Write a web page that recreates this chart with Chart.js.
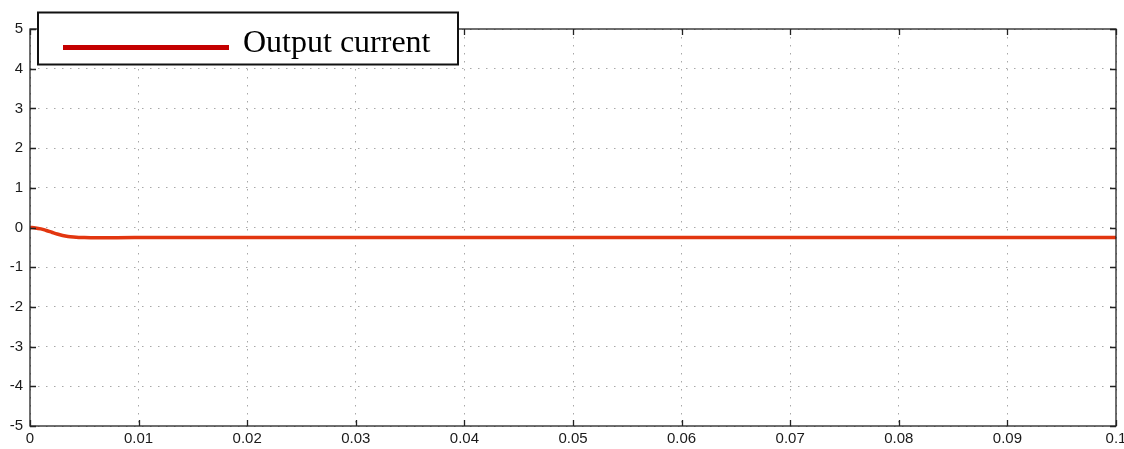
<!DOCTYPE html>
<html>
<head>
<meta charset="utf-8">
<script src="https://cdn.jsdelivr.net/npm/chart.js@4.4.1/dist/chart.umd.min.js"></script>
<style>
  html, body { margin: 0; padding: 0; background: #ffffff; }
  #wrap { width: 1124px; height: 449px; }
</style>
</head>
<body>
<div id="wrap"><canvas id="c" width="1124" height="449"></canvas></div>
<script>
// Simulation time (s) and output current (A)
const timeSec = [0, 0.0005, 0.001, 0.0015, 0.002, 0.0025, 0.003, 0.0035, 0.004, 0.0045, 0.005, 0.006, 0.007, 0.008, 0.01, 0.02, 0.03, 0.04, 0.05, 0.06, 0.07, 0.08, 0.09, 0.1];
const outputCurrent = [0, -0.01, -0.035, -0.075, -0.12, -0.165, -0.2, -0.225, -0.24, -0.25, -0.255, -0.26, -0.258, -0.256, -0.255, -0.255, -0.255, -0.255, -0.255, -0.255, -0.255, -0.255, -0.255, -0.255];

const xTicks = [0, 0.01, 0.02, 0.03, 0.04, 0.05, 0.06, 0.07, 0.08, 0.09, 0.1];
const xTickLabels = ['0', '0.01', '0.02', '0.03', '0.04', '0.05', '0.06', '0.07', '0.08', '0.09', '0.1'];
const yTicks = [-5, -4, -3, -2, -1, 0, 1, 2, 3, 4, 5];
const seriesName = 'Output current';

const points = timeSec.map((t, i) => ({ x: t, y: outputCurrent[i] }));

// Axes frame and inward tick marks
const framePlugin = {
  id: 'frame',
  afterDatasetsDraw(chart) {
    const { ctx, chartArea: a, scales } = chart;
    ctx.save();
    ctx.strokeStyle = '#222';
    ctx.lineWidth = 1.3;
    ctx.strokeRect(a.left, a.top, a.right - a.left, a.bottom - a.top);
    ctx.beginPath();
    const len = 6;
    xTicks.forEach(v => {
      const px = Math.round(scales.x.getPixelForValue(v)) + 0.5;
      ctx.moveTo(px, a.bottom); ctx.lineTo(px, a.bottom - len);
      ctx.moveTo(px, a.top); ctx.lineTo(px, a.top + len);
    });
    yTicks.forEach(v => {
      const py = Math.round(scales.y.getPixelForValue(v)) + 0.5;
      ctx.moveTo(a.left, py); ctx.lineTo(a.left + len, py);
      ctx.moveTo(a.right, py); ctx.lineTo(a.right - len, py);
    });
    ctx.stroke();
    ctx.restore();
  }
};

// Boxed legend overlapping the top-left corner of the axes
const legendBoxPlugin = {
  id: 'legendBox',
  afterDraw(chart) {
    const { ctx } = chart;
    const ds = chart.data.datasets[0];
    ctx.save();
    ctx.fillStyle = '#ffffff';
    ctx.fillRect(37, 12, 421, 53);
    ctx.strokeStyle = '#111';
    ctx.lineWidth = 2;
    ctx.strokeRect(38, 12.5, 420, 52);
    ctx.strokeStyle = '#c40000';
    ctx.lineWidth = 5;
    ctx.beginPath();
    ctx.moveTo(63, 47.5);
    ctx.lineTo(229, 47.5);
    ctx.stroke();
    ctx.fillStyle = '#000';
    ctx.font = '32px "Liberation Serif", "Times New Roman", serif';
    ctx.textBaseline = 'alphabetic';
    ctx.fillText(ds.label, 243, 52);
    ctx.restore();
  }
};

const tickFont = { family: '"Liberation Sans", Arial, sans-serif', size: 15 };

new Chart(document.getElementById('c'), {
  type: 'line',
  data: {
    datasets: [{
      label: seriesName,
      data: points,
      borderColor: '#e2360f',
      borderWidth: 3.5,
      pointRadius: 0,
      cubicInterpolationMode: 'monotone',
      fill: false
    }]
  },
  options: {
    responsive: false,
    animation: false,
    devicePixelRatio: 1,
    layout: { padding: { top: 29, right: 8, left: 0, bottom: 0 } },
    plugins: {
      legend: { display: false },
      tooltip: { enabled: false }
    },
    scales: {
      x: {
        type: 'linear',
        min: 0,
        max: 0.1,
        afterBuildTicks(scale) { scale.ticks = xTicks.map(v => ({ value: v })); },
        afterFit(scale) { scale.height = 23; scale.paddingLeft = 0; scale.paddingRight = 0; },
        ticks: {
          callback: (v, i) => xTickLabels[i],
          color: '#1a1a1a',
          font: tickFont,
          padding: 4,
          maxRotation: 0,
          autoSkip: false
        },
        grid: { color: '#a8a8a8', lineWidth: 1, drawTicks: false },
        border: { display: false, dash: [1.5, 6.5] }
      },
      y: {
        type: 'linear',
        min: -5,
        max: 5,
        afterBuildTicks(scale) { scale.ticks = yTicks.map(v => ({ value: v })); },
        afterFit(scale) { scale.width = 30; scale.paddingTop = 0; scale.paddingBottom = 0; },
        ticks: {
          color: '#1a1a1a',
          font: tickFont,
          padding: 7,
          autoSkip: false
        },
        grid: { color: '#a8a8a8', lineWidth: 1, drawTicks: false },
        border: { display: false, dash: [1.5, 6.5] }
      }
    }
  },
  plugins: [framePlugin, legendBoxPlugin]
});
</script>
</body>
</html>
